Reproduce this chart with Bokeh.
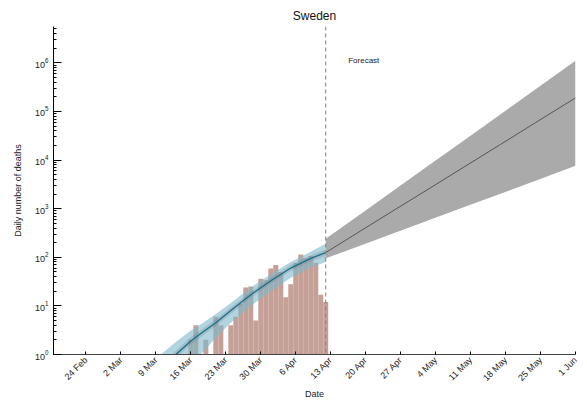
import pandas as pd
from bokeh.plotting import figure
from bokeh.models import FixedTicker, LogTicker, Span, Label, ColumnDataSource
from bokeh.embed import file_html
from bokeh.resources import INLINE

# ---- data ----
bar_dates = ["2020-03-16", "2020-03-17", "2020-03-18", "2020-03-19", "2020-03-20", "2020-03-21",
             "2020-03-22", "2020-03-23", "2020-03-24", "2020-03-25", "2020-03-26", "2020-03-27",
             "2020-03-28", "2020-03-29", "2020-03-30", "2020-03-31", "2020-04-01", "2020-04-02",
             "2020-04-03", "2020-04-04", "2020-04-05", "2020-04-06", "2020-04-07", "2020-04-08",
             "2020-04-09", "2020-04-10", "2020-04-11", "2020-04-12"]
deaths = [2, 4, 1, 2, 1, 6, 4, 1, 4, 6, 11, 24, 25, 5, 36, 34, 59, 69, 50, 15, 28, 76, 114, 96, 106, 77, 17, 12]

fit_dates = ["2020-03-10", "2020-03-13", "2020-03-16", "2020-03-18", "2020-03-21", "2020-03-24",
             "2020-03-28", "2020-04-01", "2020-04-05", "2020-04-09", "2020-04-12"]
fit_mean = [0.5, 1.0, 1.9, 2.7, 4.5, 8.0, 17, 33, 60, 95, 125]
fit_hi95 = [1.0, 1.8, 3.1, 4.2, 6.8, 11.5, 24, 45, 80, 130, 190]
fit_lo95 = [0.15, 0.4, 0.75, 1.0, 2.2, 4.5, 10, 20, 38, 62, 80]
fit_hi50 = [0.6, 1.2, 2.3, 3.2, 5.3, 9.3, 19.5, 38, 70, 110, 145]
fit_lo50 = [0.42, 0.85, 1.6, 2.3, 3.8, 6.9, 14.5, 29, 52, 82, 105]

fc_dates = ["2020-04-12", "2020-04-19", "2020-04-26", "2020-05-03", "2020-05-10", "2020-05-17",
            "2020-05-24", "2020-06-01"]
fc_mean = [125, 350, 975, 2700, 7550, 21000, 59000, 190000]
fc_hi = [240, 780, 2540, 8270, 26900, 87600, 285000, 1100000]
fc_lo = [95, 175, 324, 598, 1105, 2040, 3770, 7600]

tick_labels = ["24 Feb", "2 Mar", "9 Mar", "16 Mar", "23 Mar", "30 Mar", "6 Apr", "13 Apr",
               "20 Apr", "27 Apr", "4 May", "11 May", "18 May", "25 May", "1 Jun"]
tick_dates = ["2020-02-24", "2020-03-02", "2020-03-09", "2020-03-16", "2020-03-23", "2020-03-30",
              "2020-04-06", "2020-04-13", "2020-04-20", "2020-04-27", "2020-05-04", "2020-05-11",
              "2020-05-18", "2020-05-25", "2020-06-01"]
forecast_start = "2020-04-12"

FONT = "Liberation Sans"
TXT = "#222222"

def ms(s):
    return pd.Timestamp(s).value / 1e6

bars = ColumnDataSource(dict(x=pd.to_datetime(bar_dates), top=deaths))
fit = ColumnDataSource(dict(x=pd.to_datetime(fit_dates), m=fit_mean, hi95=fit_hi95, lo95=fit_lo95,
                            hi50=fit_hi50, lo50=fit_lo50))
fc = ColumnDataSource(dict(x=pd.to_datetime(fc_dates), m=fc_mean, hi=fc_hi, lo=fc_lo))

p = figure(width=587, height=402, x_axis_type="datetime", y_axis_type="log",
           x_range=(ms("2020-02-17") + 12 * 3600e3, ms("2020-06-01")),
           y_range=(1, 5.6e6), output_backend="svg", toolbar_location=None,
           title="Sweden", min_border_left=53, min_border_right=12, min_border_top=26,
           min_border_bottom=46)
p.title.align = "center"
p.title.text_font = FONT
p.title.text_font_size = "12px"
p.title.text_font_style = "normal"
p.title.text_color = "#111111"
p.title.standoff = 8
p.outline_line_color = None
p.grid.visible = False

p.vbar(x="x", top="top", bottom=0.1, width=86400000, source=bars,
       fill_color="#c5a097", line_color=None)
p.varea(x="x", y1="lo95", y2="hi95", source=fit, fill_color="#7db8cc", fill_alpha=0.6)
p.varea(x="x", y1="lo50", y2="hi50", source=fit, fill_color="#777777", fill_alpha=0.25)
p.line(x="x", y="m", source=fit, line_color="#13708f", line_width=1.3)
p.varea(x="x", y1="lo", y2="hi", source=fc, fill_color="#aaaaaa")
p.line(x="x", y="m", source=fc, line_color="#555555", line_width=1)

p.add_layout(Span(location=ms(forecast_start), dimension="height", line_color="#808080",
                  line_dash="4 3", line_width=1))
p.add_layout(Label(x=ms("2020-04-16") + 12 * 3600e3, y=1.1e6, text="Forecast", text_font=FONT,
                   text_font_size="8px", text_baseline="middle", text_align="left",
                   text_color=TXT))

xa = p.xaxis[0]
xa.ticker = FixedTicker(ticks=[ms(d) for d in tick_dates])
xa.major_label_overrides = {ms(d): l for d, l in zip(tick_dates, tick_labels)}
xa.major_label_orientation = 0.785
xa.major_label_text_font = FONT
xa.major_label_text_font_size = "9px"
xa.major_label_text_color = TXT
xa.major_label_standoff = 4
xa.major_tick_in = 3
xa.major_tick_out = 0
xa.minor_tick_line_color = None
xa.axis_line_color = "#444444"
xa.axis_label = "Date"
xa.axis_label_text_font = FONT
xa.axis_label_text_font_size = "9px"
xa.axis_label_text_font_style = "normal"
xa.axis_label_text_color = TXT
xa.axis_label_standoff = 0

ya = p.yaxis[0]
ya.ticker = LogTicker(num_minor_ticks=10)
ya.major_label_text_font = FONT
ya.major_label_text_font_size = "9px"
ya.major_label_text_color = TXT
ya.major_tick_in = 8
ya.major_tick_out = 0
ya.minor_tick_in = 3
ya.minor_tick_out = 0
ya.axis_line_color = "black"
ya.axis_label = "Daily number of deaths"
ya.axis_label_text_font = FONT
ya.axis_label_text_font_size = "9px"
ya.axis_label_text_font_style = "normal"
ya.axis_label_text_color = TXT
ya.axis_label_standoff = 9

open("out.html", "w").write(file_html(p, INLINE))
